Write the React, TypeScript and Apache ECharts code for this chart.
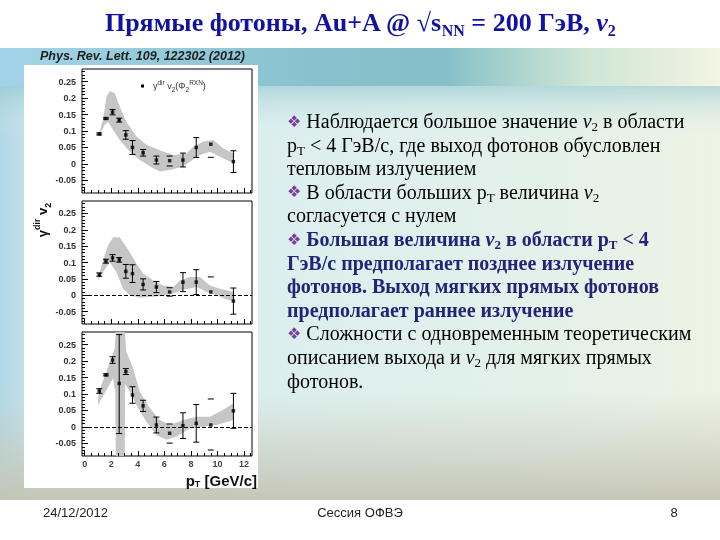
import { useEffect, useRef } from "react";
import * as echarts from "echarts";

// ---------- data ----------
const pT = [1.1, 1.6, 2.1, 2.6, 3.1, 3.6, 4.4, 5.4, 6.4, 7.4, 8.4, 9.5, 11.2];

// panel 1 (top)
const v2P1 = [0.091, 0.138, 0.157, 0.133, 0.088, 0.05, 0.034, 0.012, 0.01, 0.012, 0.05, 0.06, 0.007];
const errP1 = [0.003, 0.002, 0.008, 0.006, 0.013, 0.021, 0.01, 0.012, 0, 0.021, 0.03, 0, 0.033];
const capsP1 = [[6.4, 0.024], [6.4, -0.006], [9.5, 0.02]];
const bandTopX1 = [1.1, 1.38, 1.64, 1.89, 2.26, 2.64, 3.14, 3.9, 4.65, 5.66, 6.67, 7.67, 8.18, 8.93, 9.69, 10.44, 11.2];
const bandTopY1 = [0.095, 0.133, 0.204, 0.221, 0.215, 0.174, 0.128, 0.083, 0.058, 0.042, 0.027, 0.032, 0.052, 0.068, 0.073, 0.047, 0.032];
const bandBotX1 = [1.1, 1.51, 1.76, 2.14, 2.64, 3.4, 4.15, 5.16, 5.66, 6.42, 7.42, 7.92, 8.68, 9.43, 10.19, 11.2];
const bandBotY1 = [0.088, 0.118, 0.128, 0.103, 0.073, 0.037, 0.012, -0.013, -0.023, -0.018, -0.008, 0.007, 0.027, 0.037, 0.022, 0.002];

// panel 2 (middle)
const v2P2 = [0.063, 0.104, 0.114, 0.108, 0.073, 0.066, 0.033, 0.025, 0.01, 0.04, 0.04, 0.01, -0.018];
const errP2 = [0.005, 0.006, 0.01, 0.007, 0.021, 0.027, 0.017, 0.017, 0, 0.029, 0.038, 0, 0.04];
const capsP2 = [[6.4, 0.023], [6.4, -0.003], [9.5, 0.056]];
const bandTopX2 = [1.0, 1.13, 1.38, 1.76, 2.14, 2.64, 2.89, 3.4, 3.9, 4.4, 5.16, 5.91, 6.67, 7.17, 7.92, 8.68, 9.43, 10.19, 11.2];
const bandTopY2 = [0.045, 0.071, 0.106, 0.152, 0.177, 0.177, 0.162, 0.131, 0.096, 0.066, 0.045, 0.03, 0.025, 0.045, 0.056, 0.056, 0.03, 0.02, 0.01];
const bandBotX2 = [1.0, 1.38, 1.89, 2.39, 2.89, 3.4, 4.15, 5.16, 6.16, 6.67, 7.42, 8.43, 9.18, 10.19, 11.2];
const bandBotY2 = [0.045, 0.071, 0.101, 0.071, 0.02, 0.0, -0.008, -0.005, 0.0, 0.005, 0.017, 0.025, 0.01, -0.005, -0.02];

// panel 3 (bottom)
const v2P3 = [0.109, 0.158, 0.203, 0.132, 0.168, 0.097, 0.064, 0.006, -0.019, 0.004, 0.011, 0.006, 0.049];
const errUpP3 = [0.007, 0.003, 0.01, 0.148, 0.009, 0.025, 0.017, 0.024, 0, 0.039, 0.057, 0, 0.053];
const errDnP3 = [0.007, 0.003, 0.01, 0.152, 0.009, 0.025, 0.017, 0.024, 0, 0.039, 0.057, 0, 0.053];
const capsP3 = [[6.4, 0.009], [6.4, -0.049], [9.5, 0.085], [9.5, -0.07]];
const bandTopX3 = [1.0, 1.13, 1.64, 2.01, 2.26, 2.34, 3.02, 3.14, 3.65, 4.15, 4.91, 5.66, 6.42, 7.42, 8.43, 9.43, 10.44, 11.2];
const bandTopY3 = [0.082, 0.112, 0.168, 0.208, 0.238, 0.4, 0.4, 0.228, 0.178, 0.107, 0.057, 0.021, 0.006, 0.021, 0.031, 0.031, 0.052, 0.072];
const bandBotX3 = [1.0, 1.64, 2.14, 2.31, 2.34, 3.02, 3.05, 3.4, 3.9, 4.65, 5.41, 6.16, 6.92, 7.92, 8.93, 9.94, 11.2];
const bandBotY3 = [0.067, 0.112, 0.148, 0.107, -0.2, -0.2, 0.13, 0.107, 0.067, 0.016, -0.024, -0.039, -0.029, -0.004, 0.001, 0.006, 0.021];

// axes
const yMin = -0.088;
const yMax = 0.288;
const xMin = -0.2;
const xMax = 12.6;
const yMajor = [-0.05, 0, 0.05, 0.1, 0.15, 0.2, 0.25];
const xMajor = [0, 2, 4, 6, 8, 10, 12];
const yMinor: number[] = [];
for (let k = -8; k <= 28; k++) yMinor.push(k / 100);
const xMinor: number[] = [];
for (let k = 0; k <= 25; k++) xMinor.push(k / 2);

// ---------- helpers ----------
const clampY = (v: number) => Math.max(yMin, Math.min(yMax, v));

const bandRender = (tx: number[], ty: number[], bx: number[], by: number[]) => (params: any, api: any) => {
  const pts: number[][] = [];
  tx.forEach((x, i) => pts.push(api.coord([x, clampY(ty[i])])));
  for (let i = bx.length - 1; i >= 0; i--) pts.push(api.coord([bx[i], clampY(by[i])]));
  return { type: "polygon", shape: { points: pts }, style: { fill: "#c6c6c6" } };
};

const errRender = (params: any, api: any) => {
  const x = api.value(0);
  const lo = api.value(1);
  const hi = api.value(2);
  const a = api.coord([x, hi]);
  const b = api.coord([x, lo]);
  const cw = 3;
  const st = { stroke: "#000", lineWidth: 1 };
  return {
    type: "group",
    children: [
      { type: "line", shape: { x1: a[0], y1: a[1], x2: b[0], y2: b[1] }, style: st },
      { type: "line", shape: { x1: a[0] - cw, y1: a[1], x2: a[0] + cw, y2: a[1] }, style: st },
      { type: "line", shape: { x1: b[0] - cw, y1: b[1], x2: b[0] + cw, y2: b[1] }, style: st },
    ],
  };
};

const grids = [
  { left: 82, top: 69, width: 170, height: 124 },
  { left: 82, top: 201, width: 170, height: 123 },
  { left: 82, top: 332, width: 170, height: 124 },
];

function buildAxes() {
  const xAxis: any[] = [];
  const yAxis: any[] = [];
  grids.forEach((_, i) => {
    xAxis.push({
      type: "value", gridIndex: i, min: xMin, max: xMax, position: "bottom", z: 5,
      axisLine: { show: false, onZero: false },
      axisTick: { show: true, inside: true, length: 5, customValues: xMajor, lineStyle: { color: "#000" } },
      axisLabel: {
        show: i === 2, customValues: xMajor, fontSize: 9, fontWeight: "bold",
        color: "#444", margin: 3, fontFamily: "Liberation Sans",
      },
      splitLine: { show: false },
    });
    xAxis.push({
      type: "value", gridIndex: i, min: xMin, max: xMax, position: "bottom", z: 5,
      axisLine: { show: false, onZero: false },
      axisTick: { show: true, inside: true, length: 3, customValues: xMinor, lineStyle: { color: "#000" } },
      axisLabel: { show: false },
      splitLine: { show: false },
    });
    yAxis.push({
      type: "value", gridIndex: i, min: yMin, max: yMax, position: "left", z: 5,
      axisLine: { show: false, onZero: false },
      axisTick: { show: true, inside: true, length: 6, customValues: yMajor, lineStyle: { color: "#000" } },
      axisLabel: {
        customValues: yMajor, fontSize: 9, fontWeight: "bold", color: "#333", margin: 6,
        fontFamily: "Liberation Sans",
        formatter: (v: number) => String(parseFloat(v.toFixed(2))),
      },
      splitLine: { show: false },
    });
    yAxis.push({
      type: "value", gridIndex: i, min: yMin, max: yMax, position: "left", z: 5,
      axisLine: { show: false, onZero: false },
      axisTick: { show: true, inside: true, length: 3, customValues: yMinor, lineStyle: { color: "#000" } },
      axisLabel: { show: false },
      splitLine: { show: false },
    });
  });
  return { xAxis, yAxis };
}

function panelSeries(
  i: number, v2: number[], up: number[], dn: number[], caps: number[][],
  tx: number[], ty: number[], bx: number[], by: number[], zeroLine: boolean,
) {
  const xi = 2 * i;
  const yi = 2 * i;
  const errData = pT
    .map((x, k) => [x, v2[k] - dn[k], v2[k] + up[k]])
    .filter((_, k) => up[k] > 0 || dn[k] > 0);
  const series: any[] = [
    {
      type: "custom", xAxisIndex: xi, yAxisIndex: yi, z: 2, clip: true,
      renderItem: bandRender(tx, ty, bx, by),
      data: [[tx[0], ty[0]]],
      silent: true,
    },
    {
      type: "custom", xAxisIndex: xi, yAxisIndex: yi, z: 3,
      renderItem: errRender,
      dimensions: ["x", "lo", "hi"],
      encode: { x: 0, y: [1, 2] },
      data: errData,
      silent: true,
    },
    {
      type: "scatter", xAxisIndex: xi, yAxisIndex: yi, z: 4,
      symbol: "rect", symbolSize: 3.5,
      itemStyle: { color: "#000" },
      data: pT.map((x, k) => [x, v2[k]]),
      silent: true,
      markLine: zeroLine
        ? {
            silent: true, symbol: "none", label: { show: false },
            lineStyle: { color: "#000", width: 1, type: [4, 2] },
            data: [{ yAxis: 0 }],
          }
        : undefined,
    },
    {
      type: "scatter", xAxisIndex: xi, yAxisIndex: yi, z: 4,
      symbol: "rect", symbolSize: [6, 1.3],
      itemStyle: { color: "#000" },
      data: caps,
      silent: true,
    },
  ];
  return series;
}

// ---------- texts ----------
const serif = "'Liberation Serif', 'Times New Roman', serif";
const sans = "'Liberation Sans', Arial, sans-serif";

const bodyLines = [
  "{bu|❖}{n| Наблюдается большое значение }{i|v}{s|2}{n| в области}",
  "{n|p}{s|T}{n| < 4 ГэВ/с, где выход фотонов обусловлен}",
  "{n|тепловым излучением}",
  "{bu|❖}{n| В области больших p}{s|T}{n| величина }{i|v}{s|2}",
  "{n|согласуется с нулем}",
  "{bu|❖}{b| Большая величина }{bi|v}{bs|2}{b| в области p}{bs|T}{b| < 4}",
  "{b|ГэВ/с предполагает позднее излучение}",
  "{b|фотонов. Выход мягких прямых фотонов}",
  "{b|предполагает раннее излучение}",
  "{bu|❖}{n| Сложности с одновременным теоретическим}",
  "{n|описанием выхода и }{i|v}{s|2}{n| для мягких прямых}",
  "{n|фотонов.}",
];

const blue = "#23237a";
const FS = 20;
const bodyRich: any = {
  n: { fontSize: FS, fontFamily: serif, fill: "#000", lineHeight: 24 },
  i: { fontSize: FS, fontFamily: serif, fontStyle: "italic", fill: "#000", lineHeight: 24 },
  s: { fontSize: 13, fontFamily: serif, fill: "#000", lineHeight: 16, verticalAlign: "bottom" },
  b: { fontSize: FS, fontFamily: serif, fontWeight: "bold", fill: blue, lineHeight: 24 },
  bi: { fontSize: FS, fontFamily: serif, fontWeight: "bold", fontStyle: "italic", fill: blue, lineHeight: 24 },
  bs: { fontSize: 13, fontFamily: serif, fontWeight: "bold", fill: blue, lineHeight: 16, verticalAlign: "bottom" },
  bu: { fontSize: 16, fontFamily: "'DejaVu Sans'", fill: "#7a3fa0", lineHeight: 24 },
};

function buildGraphic() {
  const g: any[] = [];
  // slide background
  g.push({ type: "rect", z: -20, shape: { x: 0, y: 0, width: 720, height: 540 }, style: { fill: "#ffffff" } });
  g.push({
    type: "rect", z: -19, shape: { x: 0, y: 48, width: 720, height: 452 },
    style: {
      fill: new echarts.graphic.LinearGradient(0, 0, 1, 0, [
        { offset: 0, color: "#b2d8e6" },
        { offset: 0.06, color: "#cde6ec" },
        { offset: 0.4, color: "#dcefee" },
        { offset: 0.75, color: "#e3f1ea" },
        { offset: 1, color: "#eef3e4" },
      ]),
    },
  });
  g.push({
    type: "rect", z: -18, shape: { x: 0, y: 48, width: 720, height: 38 },
    style: {
      fill: new echarts.graphic.LinearGradient(0, 0, 1, 0, [
        { offset: 0, color: "rgba(160,210,232,0.9)" },
        { offset: 0.45, color: "rgba(120,185,200,0.85)" },
        { offset: 0.62, color: "rgba(110,180,190,0.8)" },
        { offset: 0.82, color: "rgba(200,225,205,0.7)" },
        { offset: 1, color: "rgba(245,245,228,0.8)" },
      ]),
    },
  });
  g.push({
    type: "rect", z: -18, shape: { x: 0, y: 86, width: 720, height: 50 },
    style: {
      fill: new echarts.graphic.LinearGradient(0, 0, 0, 1, [
        { offset: 0, color: "rgba(140,195,205,0.55)" },
        { offset: 1, color: "rgba(220,238,237,0)" },
      ]),
    },
  });
  g.push({
    type: "rect", z: -18, shape: { x: 0, y: 390, width: 720, height: 110 },
    style: {
      fill: new echarts.graphic.LinearGradient(0, 0, 0, 1, [
        { offset: 0, color: "rgba(205,205,190,0)" },
        { offset: 1, color: "rgba(196,196,180,0.95)" },
      ]),
    },
  });
  // white figure box
  g.push({ type: "rect", z: -10, shape: { x: 24, y: 65, width: 234, height: 423 }, style: { fill: "#ffffff" } });

  // title
  g.push({
    type: "text", z: 50, x: 360, y: 22,
    style: {
      text: "{t|Прямые фотоны, Au+A @ √s}{ts|NN}{t| = 200 ГэВ, }{ti|v}{ts|2}",
      align: "center", verticalAlign: "middle",
      rich: {
        t: { fontSize: 26, fontWeight: "bold", fontFamily: serif, fill: "#1212a0", lineHeight: 32 },
        ti: { fontSize: 26, fontWeight: "bold", fontStyle: "italic", fontFamily: serif, fill: "#1212a0", lineHeight: 32 },
        ts: { fontSize: 16, fontWeight: "bold", fontFamily: serif, fill: "#1212a0", lineHeight: 20, verticalAlign: "bottom" },
      },
    },
  });
  // reference
  g.push({
    type: "text", z: 50, x: 40, y: 56,
    style: {
      text: "Phys. Rev. Lett. 109, 122302 (2012)", fontSize: 12.5, fontWeight: "bold", fontStyle: "italic",
      fontFamily: sans, fill: "#222", verticalAlign: "middle",
    },
  });
  // body lines
  bodyLines.forEach((line, k) => {
    g.push({
      type: "text", z: 50, x: 287, y: 121 + k * 23.6,
      style: { text: line, rich: bodyRich, verticalAlign: "middle", align: "left" },
    });
  });
  // footer
  g.push({ type: "text", z: 50, x: 43, y: 512, style: { text: "24/12/2012", fontSize: 13, fontFamily: sans, fill: "#222", verticalAlign: "middle" } });
  g.push({ type: "text", z: 50, x: 360, y: 512, style: { text: "Сессия ОФВЭ", fontSize: 13, fontFamily: sans, fill: "#222", align: "center", verticalAlign: "middle" } });
  g.push({ type: "text", z: 50, x: 674, y: 512, style: { text: "8", fontSize: 13, fontFamily: sans, fill: "#222", align: "center", verticalAlign: "middle" } });

  // y axis title (rotated)
  g.push({
    type: "text", z: 50, x: 42, y: 220, rotation: Math.PI / 2,
    style: {
      text: "{g|γ}{sup|dir}{g| v}{sub|2}",
      align: "center", verticalAlign: "middle",
      rich: {
        g: { fontSize: 13, fontWeight: "bold", fontFamily: sans, fill: "#111", lineHeight: 20 },
        sup: { fontSize: 9, fontWeight: "bold", fontFamily: sans, fill: "#111", lineHeight: 12, verticalAlign: "top" },
        sub: { fontSize: 9, fontWeight: "bold", fontFamily: sans, fill: "#111", lineHeight: 12, verticalAlign: "bottom" },
      },
    },
  });
  // x axis title
  g.push({
    type: "text", z: 50, x: 257, y: 480,
    style: {
      text: "{p|p}{s|T}{p| [GeV/c]}",
      align: "right", verticalAlign: "middle",
      rich: {
        p: { fontSize: 15, fontWeight: "bold", fontFamily: sans, fill: "#111", lineHeight: 16 },
        s: { fontSize: 9, fontWeight: "bold", fontFamily: sans, fill: "#111", lineHeight: 10, verticalAlign: "bottom" },
      },
    },
  });
  // legend in panel 1
  g.push({ type: "rect", z: 50, shape: { x: 141, y: 84.5, width: 3, height: 3 }, style: { fill: "#000" } });
  g.push({
    type: "text", z: 50, x: 153, y: 86,
    style: {
      text: "{t|γ}{u|dir}{t| v}{d|2}{t|(Φ}{d|2}{u|RXN}{t|)}",
      verticalAlign: "middle",
      rich: {
        t: { fontSize: 9, fontFamily: sans, fill: "#333", lineHeight: 14 },
        u: { fontSize: 6.5, fontFamily: sans, fill: "#333", lineHeight: 8, verticalAlign: "top" },
        d: { fontSize: 6.5, fontFamily: sans, fill: "#333", lineHeight: 8, verticalAlign: "bottom" },
      },
    },
  });
  return g;
}

export default function App() {
  const ref = useRef<HTMLDivElement>(null);
  useEffect(() => {
    if (!ref.current) return;
    const chart = echarts.init(ref.current, null, { renderer: "svg" });
    const { xAxis, yAxis } = buildAxes();
    const series = [
      ...panelSeries(0, v2P1, errP1, errP1, capsP1, bandTopX1, bandTopY1, bandBotX1, bandBotY1, false),
      ...panelSeries(1, v2P2, errP2, errP2, capsP2, bandTopX2, bandTopY2, bandBotX2, bandBotY2, true),
      ...panelSeries(2, v2P3, errUpP3, errDnP3, capsP3, bandTopX3, bandTopY3, bandBotX3, bandBotY3, true),
    ];
    chart.setOption({
      animation: false,
      grid: grids.map((gr) => ({ ...gr, show: true, borderColor: "#000", borderWidth: 1, backgroundColor: "transparent", z: 1 })),
      xAxis,
      yAxis,
      series,
      graphic: buildGraphic(),
    });
    return () => chart.dispose();
  }, []);
  return <div ref={ref} style={{ position: "fixed", left: 0, top: 0, width: 720, height: 540 }} />;
}
